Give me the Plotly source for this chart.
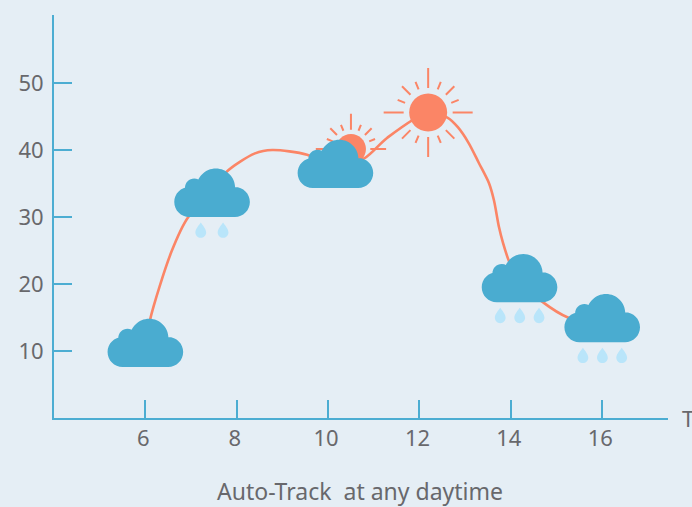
import math
import plotly.graph_objects as go

# ---- data ----
line_x = [6.0, 6.1, 6.57, 6.94, 7.46, 7.77, 8.4, 8.78, 9.54, 10.16, 10.8, 11.29, 12.19, 12.62, 12.84, 13.08, 13.30, 13.52, 13.63, 13.74, 13.83, 13.96, 14.19, 14.7, 15.25, 16.0]
line_y = [10.0, 14.6, 24.8, 30.0, 33.5, 36.7, 39.5, 40.0, 39.3, 37.5, 38.8, 41.8, 45.6, 44.8, 43.4, 41.0, 38.06, 35.07, 32.5, 28.5, 26.1, 23.4, 20.5, 17.3, 15.0, 13.7]

cloud_x = [6.0, 7.46, 10.16, 14.19, 16.0]
cloud_y = [10.0, 32.4, 36.7, 19.66, 13.7]
cloud_rain = [0, 2, 0, 3, 3]

sun_x = [10.5, 12.19]
sun_y = [40.15, 45.6]
sun_scale = [0.79, 1.0]

x_ticks = [6, 8, 10, 12, 14, 16]
y_ticks = [10, 20, 30, 40, 50]

caption = "Auto-Track\u00a0 at any daytime"
x_name = "Time"

# ---- styles ----
BG = "#e5eef5"
AXIS = "#4cadd2"
LINE = "#fb8566"
CLOUD = "#4aacd0"
DROP = "#b9e5fa"
TEXT = "#68686c"
FONT = "Noto Sans"


def circle(cx, cy, r):
    k = 0.5523 * r
    return (f"M{cx+r},{cy} C{cx+r},{cy+k} {cx+k},{cy+r} {cx},{cy+r} "
            f"C{cx-k},{cy+r} {cx-r},{cy+k} {cx-r},{cy} "
            f"C{cx-r},{cy-k} {cx-k},{cy-r} {cx},{cy-r} "
            f"C{cx+k},{cy-r} {cx+r},{cy-k} {cx+r},{cy} Z")


def cloud_path():
    return " ".join([
        circle(-22.8, -1, 15),
        circle(22.8, -1, 15),
        circle(3.8, 13, 19.3),
        circle(-17.8, 13, 9.3),
        "M22.8,-16 L22.8,7 L-22.8,7 L-22.8,-16 Z",
    ])


def drop_path(dx):
    tip, cy, r = -21.5, -31.5, 5.4
    k = 0.5523 * r
    return (f"M{dx},{tip} C{dx+1.8},{tip-2.5} {dx+r},{cy+3.5} {dx+r},{cy} "
            f"C{dx+r},{cy-k} {dx+k},{cy-r} {dx},{cy-r} "
            f"C{dx-k},{cy-r} {dx-r},{cy-k} {dx-r},{cy} "
            f"C{dx-r},{cy+3.5} {dx-1.8},{tip-2.5} {dx},{tip} Z")


def rays_path(s):
    parts = []
    for i in range(16):
        deg = i * 22.5
        if deg in (337.5, 202.5):
            continue  # these two rays are absent in the picture
        if i % 4 == 0:
            r0, r1 = 24.5, 44.5
        elif i % 2 == 0:
            r0, r1 = 25, 37
        else:
            r0, r1 = 25, 33
        c, n = math.cos(math.radians(deg)), math.sin(math.radians(deg))
        parts.append(f"M{r0*s*c:.2f},{r0*s*n:.2f} L{r1*s*c:.2f},{r1*s*n:.2f}")
    return " ".join(parts)


def glyph(x, y, path, fill=None, stroke=None, width=0):
    return dict(
        type="path", layer="above", xref="x", yref="y",
        xsizemode="pixel", ysizemode="pixel", xanchor=x, yanchor=y,
        path=path, fillrule="nonzero",
        fillcolor=fill or "rgba(0,0,0,0)",
        line=dict(color=stroke or "rgba(0,0,0,0)", width=width),
    )


shapes = []
for x, y, s in zip(sun_x, sun_y, sun_scale):
    shapes.append(glyph(x, y, rays_path(s), stroke=LINE, width=2))
    shapes.append(glyph(x, y, circle(0, 0, 19 * s), fill=LINE))
for x, y, n in zip(cloud_x, cloud_y, cloud_rain):
    shapes.append(glyph(x, y, cloud_path(), fill=CLOUD))
    if n == 2:
        offs = [-11.3, 11.0]
    elif n == 3:
        offs = [-19.3, 0.2, 19.5]
    else:
        offs = []
    for dx in offs:
        shapes.append(glyph(x, y, drop_path(dx), fill=DROP))

fig = go.Figure(go.Scatter(
    x=line_x, y=line_y, mode="lines",
    line=dict(color=LINE, width=2.6, shape="spline", smoothing=0.8),
    hoverinfo="skip", showlegend=False, cliponaxis=False,
))

axis_common = dict(
    showgrid=False, zeroline=False, showline=True, linecolor=AXIS, linewidth=2,
    ticks="inside", ticklen=18, tickwidth=2, tickcolor=AXIS,
    tickfont=dict(family=FONT, size=22, color=TEXT),
)
fig.update_xaxes(range=[4, 17.44], tickvals=x_ticks, ticktext=[str(v) for v in x_ticks],
                 ticklabelshift=-2, **axis_common)
fig.update_yaxes(range=[0, 60.15], tickvals=y_ticks, ticktext=[str(v) for v in y_ticks],
                 ticklabelstandoff=4, **axis_common)

fig.update_layout(
    width=692, height=507, autosize=False,
    margin=dict(l=54, r=24, t=15, b=89),
    paper_bgcolor=BG, plot_bgcolor=BG,
    shapes=shapes,
    annotations=[
        dict(text=caption, xref="paper", yref="paper", x=(360 - 54) / 614, y=-(491 - 418) / 403,
             xanchor="center", yanchor="middle", showarrow=False,
             font=dict(family=FONT, size=23, color=TEXT)),
        dict(text=x_name, xref="paper", yref="paper", x=(680 - 54) / 614, y=0,
             xanchor="left", yanchor="middle", showarrow=False,
             font=dict(family=FONT, size=22, color=TEXT)),
    ],
)

fig.write_html("out.html", config={"displayModeBar": False},
               post_script="document.body.style.margin='0';document.body.style.overflow='hidden';")
